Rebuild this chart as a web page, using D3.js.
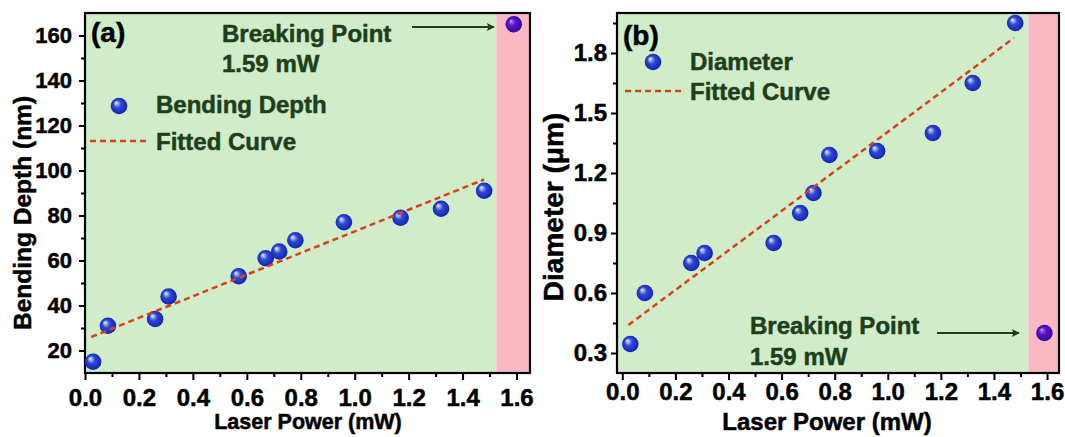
<!DOCTYPE html>
<html>
<head>
<meta charset="utf-8">
<script src="https://cdn.jsdelivr.net/npm/d3@7"></script>
<style>
  body { margin: 0; background: #fff; }
  svg text { font-family: "Liberation Sans", Arial, sans-serif; font-weight: bold; }
</style>
</head>
<body>
<svg id="chart" width="1065" height="437"></svg>
<script>
// laser power (mW) of each measured point, shared by both panels
const laserPower = [0.03, 0.085, 0.26, 0.31, 0.57, 0.67, 0.72, 0.78, 0.96, 1.17, 1.32, 1.48];
const bendingDepth = [15, 31, 34, 44, 53, 61, 64, 69, 77, 79, 83, 91];
const diameter = [0.345, 0.60, 0.75, 0.80, 0.85, 1.00, 1.10, 1.29, 1.31, 1.40, 1.65, 1.95];

// breaking point (drawn in purple inside the pink band)
const breakPower = 1.59;
const breakDepth = 165;
const breakDiameter = 0.40;

// end points of the fitted straight lines
const depthFitX = [0.023, 1.48];
const depthFitY = [26, 96];
const diameterFitX = [0.023, 1.475];
const diameterFitY = [0.44, 1.875];

// tick values
const xTicks = [0, 0.2, 0.4, 0.6, 0.8, 1.0, 1.2, 1.4, 1.6];
const xMinor = [0.1, 0.3, 0.5, 0.7, 0.9, 1.1, 1.3, 1.5];
const depthTicks = [20, 40, 60, 80, 100, 120, 140, 160];
const depthMinor = [30, 50, 70, 90, 110, 130, 150];
const diameterTicks = [0.3, 0.6, 0.9, 1.2, 1.5, 1.8];
const diameterMinor = [0.45, 0.75, 1.05, 1.35, 1.65, 1.95];

const GREEN_BG = "#d0ecc8", PINK_BG = "#f8b9c5", TXT = "#1d401b", FIT = "#d8401c";

const svg = d3.select("#chart");
const defs = svg.append("defs");

function ballGradient(id, stops) {
  const g = defs.append("radialGradient").attr("id", id)
    .attr("cx", 0.5).attr("cy", 0.5).attr("r", 0.55)
    .attr("fx", 0.32).attr("fy", 0.3);
  stops.forEach(s => g.append("stop").attr("offset", s[0]).attr("stop-color", s[1]));
}
ballGradient("ballBlue", [[0, "#eef6e4"], [0.16, "#9fb2ea"], [0.42, "#2f47d6"], [0.8, "#1a2dbd"], [1, "#0c1a92"]]);
ballGradient("ballPurple", [[0, "#e8b0e4"], [0.15, "#9a58dc"], [0.4, "#5814c8"], [1, "#30069a"]]);

defs.append("marker").attr("id", "arrowHead")
  .attr("viewBox", "0 0 10 10").attr("refX", 9).attr("refY", 5)
  .attr("markerWidth", 5.5).attr("markerHeight", 3.6).attr("orient", "auto")
  .attr("markerUnits", "strokeWidth")
  .append("path").attr("d", "M0,0 L10,5 L0,10 L2,5 Z").attr("fill", TXT);

// heavier text, like the source figure
function heavy(sel, color) {
  return sel.attr("fill", color).attr("stroke", color).attr("stroke-width", 0.5);
}

function drawPanel(cfg) {
  const x = d3.scaleLinear().domain(cfg.xDomain).range([cfg.left, cfg.right]);
  const y = d3.scaleLinear().domain(cfg.yDomain).range([cfg.bottom, cfg.top]);
  const g = svg.append("g");

  // green / pink backgrounds
  g.append("rect")
    .attr("x", x(cfg.xDomain[0])).attr("y", y(cfg.yDomain[1]))
    .attr("width", x(cfg.bandStart) - x(cfg.xDomain[0]))
    .attr("height", y(cfg.yDomain[0]) - y(cfg.yDomain[1]))
    .attr("fill", GREEN_BG);
  g.append("rect")
    .attr("x", x(cfg.bandStart)).attr("y", y(cfg.yDomain[1]))
    .attr("width", x(cfg.xDomain[1]) - x(cfg.bandStart))
    .attr("height", y(cfg.yDomain[0]) - y(cfg.yDomain[1]))
    .attr("fill", PINK_BG);

  // axes
  const xAxis = d3.axisBottom(x).tickValues(cfg.xTicks).tickFormat(d3.format(".1f")).tickSizeInner(7).tickSizeOuter(0).tickPadding(cfg.xPad);
  const xAxisMinor = d3.axisBottom(x).tickValues(cfg.xMinor).tickFormat("").tickSizeInner(4).tickSizeOuter(0);
  const yAxis = d3.axisLeft(y).tickValues(cfg.yTicks).tickFormat(cfg.yFormat).tickSizeInner(6).tickSizeOuter(0).tickPadding(cfg.yPad);
  const yAxisMinor = d3.axisLeft(y).tickValues(cfg.yMinor).tickFormat("").tickSizeInner(4).tickSizeOuter(0);

  [[xAxis, "x"], [xAxisMinor, "x"], [yAxis, "y"], [yAxisMinor, "y"]].forEach(([ax, k]) => {
    const a = g.append("g")
      .attr("transform", k == "x" ? `translate(0,${cfg.bottom})` : `translate(${cfg.left},0)`)
      .call(ax);
    a.select(".domain").remove();
    a.selectAll(".tick line").attr("stroke", "#000").attr("stroke-width", 2);
    heavy(a.selectAll(".tick text"), "#000").attr("font-size", k == "x" ? 24 : cfg.yTickSize)
      .style("font-family", '"Liberation Sans", Arial, sans-serif').style("font-weight", "bold");
  });

  // frame
  g.append("rect")
    .attr("x", cfg.left).attr("y", cfg.top)
    .attr("width", cfg.right - cfg.left).attr("height", cfg.bottom - cfg.top)
    .attr("fill", "none").attr("stroke", "#000").attr("stroke-width", 2.2);

  // data balls
  g.selectAll("circle.pt")
    .data(laserPower.map((p, i) => [p, cfg.values[i]]))
    .join("circle").attr("class", "pt")
      .attr("cx", d => x(d[0])).attr("cy", d => y(d[1]))
      .attr("r", 8.3).attr("fill", "url(#ballBlue)");
  g.append("circle")
    .attr("cx", x(breakPower)).attr("cy", y(cfg.breakValue))
    .attr("r", 8.3).attr("fill", "url(#ballPurple)");

  // fitted line on top of the balls
  g.append("line")
    .attr("x1", x(cfg.fitX[0])).attr("y1", y(cfg.fitY[0]))
    .attr("x2", x(cfg.fitX[1])).attr("y2", y(cfg.fitY[1]))
    .attr("stroke", FIT).attr("stroke-width", 2.5).attr("stroke-dasharray", "6,4");

  // panel letter
  heavy(g.append("text"), "#000").attr("x", cfg.letterPos[0]).attr("y", cfg.letterPos[1])
    .attr("font-size", 28).text(cfg.letter);

  // legend
  const lg = cfg.legend;
  g.append("circle").attr("cx", lg.ball[0]).attr("cy", lg.ball[1]).attr("r", 8.3).attr("fill", "url(#ballBlue)");
  heavy(g.append("text"), TXT).attr("x", lg.textX).attr("y", lg.row1).attr("font-size", 24).text(cfg.seriesName);
  g.append("line").attr("x1", lg.line[0]).attr("x2", lg.line[1]).attr("y1", lg.lineY).attr("y2", lg.lineY)
    .attr("stroke", FIT).attr("stroke-width", 2.5).attr("stroke-dasharray", "6,4");
  heavy(g.append("text"), TXT).attr("x", lg.textX).attr("y", lg.row2).attr("font-size", 24).text("Fitted Curve");

  // breaking point note
  const bp = cfg.breakNote;
  heavy(g.append("text"), TXT).attr("x", bp.x).attr("y", bp.y1).attr("font-size", 24).text("Breaking Point");
  heavy(g.append("text"), TXT).attr("x", bp.x).attr("y", bp.y2).attr("font-size", 24).text("1.59 mW");
  g.append("line").attr("x1", bp.arrow[0]).attr("x2", bp.arrow[1]).attr("y1", bp.arrowY).attr("y2", bp.arrowY)
    .attr("stroke", TXT).attr("stroke-width", 2.2).attr("marker-end", "url(#arrowHead)");

  // axis titles
  heavy(g.append("text"), "#000").attr("x", (cfg.xTitle.cx)).attr("y", cfg.xTitle.y)
    .attr("text-anchor", "middle").attr("font-size", cfg.xTitle.size)
    .text("Laser Power (mW)");
  heavy(g.append("text"), "#000")
    .attr("transform", `translate(${cfg.yTitle.x},${cfg.yTitle.cy}) rotate(-90)`)
    .attr("text-anchor", "middle").attr("font-size", cfg.yTitle.size)
    .text(cfg.yTitle.text);
}

drawPanel({
  left: 85, right: 530, top: 13, bottom: 373,
  xDomain: [0, 1.65], yDomain: [10, 170], bandStart: 1.525,
  xTicks: xTicks, xMinor: xMinor, yTicks: depthTicks, yMinor: depthMinor,
  yFormat: d3.format("d"), xPad: 9, yPad: 7, yTickSize: 22,
  values: bendingDepth, breakValue: breakDepth,
  fitX: depthFitX, fitY: depthFitY,
  letter: "(a)", letterPos: [91, 42],
  seriesName: "Bending Depth",
  legend: { ball: [119, 106], textX: 156, row1: 113, row2: 150, line: [90, 148], lineY: 141 },
  breakNote: { x: 222, y1: 42, y2: 72, arrow: [412, 494], arrowY: 27 },
  xTitle: { cx: 308, y: 429, size: 21.5 },
  yTitle: { x: 31, cy: 213, size: 24.5, text: "Bending Depth (nm)" }
});

drawPanel({
  left: 617, right: 1059, top: 13, bottom: 373,
  xDomain: [-0.02, 1.645], yDomain: [0.2, 2.0], bandStart: 1.53,
  xTicks: xTicks, xMinor: xMinor, yTicks: diameterTicks, yMinor: diameterMinor,
  yFormat: d3.format(".1f"), xPad: 3, yPad: 4, yTickSize: 24,
  values: diameter, breakValue: breakDiameter,
  fitX: diameterFitX, fitY: diameterFitY,
  letter: "(b)", letterPos: [623, 45],
  seriesName: "Diameter",
  legend: { ball: [653, 62], textX: 690, row1: 70, row2: 100, line: [625, 683], lineY: 91 },
  breakNote: { x: 750, y1: 334, y2: 365, arrow: [937, 1019], arrowY: 333 },
  xTitle: { cx: 827, y: 430, size: 24 },
  yTitle: { x: 563, cy: 207, size: 28, text: "Diameter (μm)" }
});
</script>
</body>
</html>
